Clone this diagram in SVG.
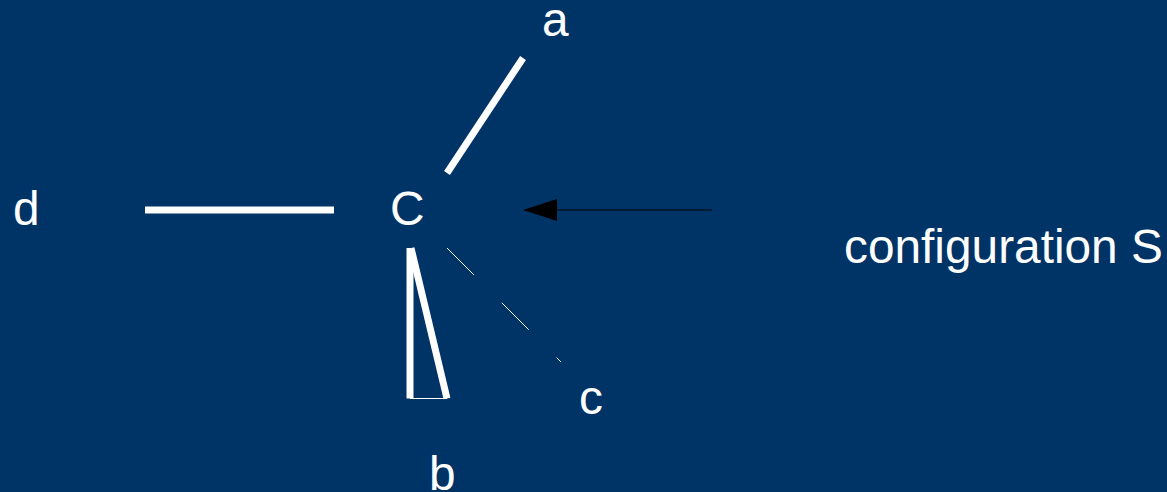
<svg xmlns="http://www.w3.org/2000/svg" width="1167" height="492" viewBox="0 0 1167 492">
<style>
text{font-family:"Liberation Sans",Arial,sans-serif;font-size:47.800px;fill:#fff}
.w{stroke:#fff;fill:none}
</style>
<rect width="1167" height="492" fill="#003366"/>
<g id="connectors">
<line class="w" x1="523" y1="58" x2="447" y2="173" stroke-width="7"/>
<line class="w" x1="145" y1="210" x2="334" y2="210" stroke-width="7"/>
<path class="w" d="M410 248V398.500" stroke-width="7"/>
<path class="w" d="M411 248L447 398.500" stroke-width="7"/>
<path class="w" d="M410 398.500H447" stroke-width="1"/>
<path class="w" d="M447 248L561 362" stroke-width="1" stroke-dasharray="38 39.500"/>
<line x1="712" y1="210" x2="557" y2="210" stroke="#000" stroke-width="1"/>
<path d="M523 210L557 199V221Z" fill="#000"/>
</g>
<g id="node-a"><text x="542" y="36">a</text></g>
<g id="node-C"><text x="390" y="225">C</text></g>
<g id="node-d"><text x="13" y="225">d</text></g>
<g id="node-c"><text x="579" y="414">c</text></g>
<g id="node-b"><text x="429" y="490">b</text></g>
<g id="label-s"><text x="844" y="263">configuration S</text></g>
</svg>
